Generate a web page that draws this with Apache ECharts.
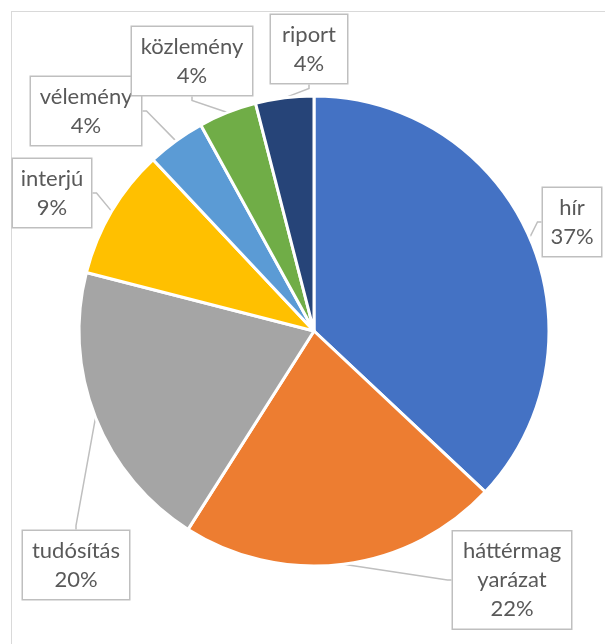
<!DOCTYPE html>
<html>
<head>
<meta charset="utf-8">
<script src="https://cdn.jsdelivr.net/npm/echarts@6/dist/echarts.min.js"></script>
<style>
  html, body { margin: 0; padding: 0; background: #fff; }
  #wrap { position: relative; width: 605px; height: 644px; overflow: hidden; }
  #frame { position: absolute; left: 11px; top: 11px; width: 640px; height: 680px; border: 1px solid #d9d9d9; }
  #pie { position: absolute; left: 0; top: 0; width: 605px; height: 644px; }
</style>
</head>
<body>
<div id="wrap">
  <div id="frame"></div>
  <div id="pie"></div>
</div>
<script>
// adatok
const categories = ['hír', 'háttérmagyarázat', 'tudósítás', 'interjú', 'vélemény', 'közlemény', 'riport']
const values = [37, 22, 20, 9, 4, 4, 4]
const colors = ['#4472C4', '#ED7D31', '#A5A5A5', '#FFC000', '#5B9BD5', '#70AD47', '#264478']
// callout box centres and widths
const labelPos = [[572, 222], [512, 580], [76, 565], [52, 193], [86, 111], [192, 61], [309, 49]]
const labelW = [58, 118, 106, 78, 110, 120, 76]

const chart = echarts.init(document.getElementById('pie'))
chart.setOption({
  animation: false,
  series: [
    {
      type: 'pie',
      center: [314, 331],
      radius: 235,
      startAngle: 90,
      clockwise: true,
      percentPrecision: 0,
      itemStyle: {
        borderColor: '#fff',
        borderWidth: 3
      },
      label: {
        show: true,
        position: 'outer',
        alignTo: 'none',
        overflow: 'none',
        formatter(p) {
          let name = p.name
          if (name.length > 12) {
            name = name.slice(0, 9) + '\n' + name.slice(9)
          }
          return name + '\n' + p.percent + '%'
        },
        color: '#595959',
        fontFamily: 'Lato',
        fontSize: 22,
        lineHeight: 29,
        align: 'center',
        backgroundColor: '#fff',
        borderColor: '#bfbfbf',
        borderWidth: 1.5,
        padding: [5, 0, 5, 0]
      },
      labelLine: {
        show: true,
        length: 4,
        length2: 4,
        lineStyle: {
          color: '#bfbfbf',
          width: 1.5
        }
      },
      labelLayout(params) {
        const pos = labelPos[params.dataIndex]
        return {
          x: pos[0],
          y: pos[1],
          align: 'center',
          verticalAlign: 'middle'
        }
      },
      data: categories.map((c, i) => ({
        name: c,
        value: values[i],
        itemStyle: { color: colors[i] },
        label: { width: labelW[i] }
      }))
    }
  ]
})
</script>
</body>
</html>
